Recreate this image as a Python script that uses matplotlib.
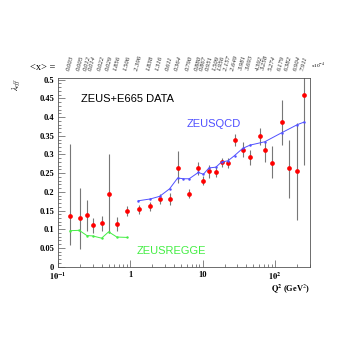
import matplotlib
matplotlib.use("Agg")
import matplotlib.pyplot as plt
import matplotlib.transforms as mtransforms

plt.rcParams["mathtext.fontset"] = "stix"

# data points: Q^2, lambda_eff and the ends of the error bars
q2 = [0.147, 0.20, 0.25, 0.30, 0.40, 0.51, 0.66, 0.91, 1.30, 1.89,
      2.54, 3.48, 4.55, 6.5, 8.7, 10.2, 12.2, 15.2, 18.2, 22.3,
      27.5, 35.5, 45, 61, 72, 92, 123, 154, 204, 254]
lam = [0.136, 0.130, 0.138, 0.111, 0.116, 0.195, 0.114, 0.149, 0.154, 0.161,
       0.181, 0.181, 0.265, 0.195, 0.265, 0.230, 0.255, 0.254, 0.279, 0.278,
       0.339, 0.313, 0.293, 0.349, 0.312, 0.278, 0.387, 0.263, 0.255, 0.460]
lam_lo = [0.058, 0.047, 0.094, 0.090, 0.096, 0.091, 0.096, 0.136, 0.142, 0.149,
          0.168, 0.165, 0.224, 0.183, 0.246, 0.218, 0.237, 0.240, 0.267, 0.265,
          0.324, 0.293, 0.273, 0.326, 0.281, 0.237, 0.326, 0.183, 0.125, 0.273]
lam_hi = [0.328, 0.210, 0.177, 0.130, 0.136, 0.300, 0.132, 0.162, 0.166, 0.173,
          0.194, 0.197, 0.308, 0.207, 0.280, 0.242, 0.273, 0.268, 0.291, 0.291,
          0.355, 0.333, 0.313, 0.371, 0.335, 0.322, 0.447, 0.340, 0.384, 0.600]

# <x> labels on top
x_labels = ["0.003", "0.005", "0.012", "0.014", "0.022", "0.029", "1.856", "1.506",
            "2.396", "1.838", "1.316", "0.611", "0.364", "0.790", "0.880", "0.867",
            "0.951", "1.509", "1.956", "2.157", "2.649", "3.981", "3.693", "4.392",
            "3.258", "5.274", "6.179", "6.382", "6.904", "7.911"]

# ZEUSQCD curve
qcd_q2 = [1.28, 1.89, 2.54, 3.48, 4.5, 5.4, 6.5, 8.7, 10.2, 12.2, 15.2,
          18.2, 22.3, 27.5, 35.5, 45, 72, 123, 204, 254]
qcd_lam = [0.176, 0.181, 0.188, 0.208, 0.237, 0.235, 0.235, 0.252, 0.247, 0.264,
           0.266, 0.280, 0.283, 0.297, 0.316, 0.325, 0.334, 0.358, 0.380, 0.387]

# ZEUSREGGE curve
regge_q2 = [0.147, 0.196, 0.25, 0.30, 0.40, 0.50, 0.65, 0.90]
regge_lam = [0.096, 0.097, 0.083, 0.082, 0.076, 0.093, 0.079, 0.078]

fig = plt.figure(figsize=(3.54, 3.54), dpi=100)
ax = fig.add_axes([0.164, 0.247, 0.712, 0.533])

yerr = [[v - lo for v, lo in zip(lam, lam_lo)], [hi - v for v, hi in zip(lam, lam_hi)]]
ax.errorbar(q2, lam, yerr=yerr, fmt="none", ecolor="#777777", elinewidth=0.8, capsize=0)
ax.plot(q2, lam, "o", color="red", markersize=3.4, markeredgewidth=0)
ax.plot(qcd_q2, qcd_lam, color="#5050ff", lw=0.7, marker=".", markersize=1.5)
ax.plot(regge_q2, regge_lam, color="#44ee44", lw=0.7, marker=".", markersize=1.5)

ax.set_xscale("log")
ax.set_xlim(0.1, 305)
ax.set_ylim(0, 0.505)

serif = {"family": "Liberation Serif", "weight": "bold", "size": 6}
ax.set_yticks([0, 0.05, 0.1, 0.15, 0.2, 0.25, 0.3, 0.35, 0.4, 0.45, 0.5])
ax.set_yticklabels(["0", "0.05", "0.1", "0.15", "0.2", "0.25", "0.3", "0.35",
                    "0.4", "0.45", "0.5"], fontdict=serif)
ax.set_yticks([i * 0.01 for i in range(51)], minor=True)
ax.set_xticks([0.1, 1, 10, 100])
ax.set_xticklabels([r"$\mathbf{10^{-1}}$", "1", "10", r"$\mathbf{10^{2}}$"], fontdict=serif)
ax.tick_params(which="both", direction="in", right=False, top=False, width=0.5, color="#555555")
ax.tick_params(which="major", length=5, pad=3)
ax.tick_params(which="minor", length=2.5)
for s in ax.spines.values():
    s.set_linewidth(0.6)
    s.set_color("#555555")

ax.text(1.0, -0.085, r"$\mathbf{Q^2}$ (GeV$^2$)", transform=ax.transAxes, ha="right",
        va="top", fontdict=serif)
ax.text(-0.165, 1.0, r"$\lambda_{eff}$", transform=ax.transAxes, rotation=90,
        ha="center", va="top", fontsize=6, family="Liberation Serif")

sans = "Liberation Sans"
ax.text(0.09, 0.87, "ZEUS+E665 DATA", transform=ax.transAxes, fontsize=8, family=sans)
ax.text(0.51, 0.74, "ZEUSQCD", transform=ax.transAxes, fontsize=8, family=sans, color="#5050ff")
ax.text(0.31, 0.065, "ZEUSREGGE", transform=ax.transAxes, fontsize=8, family=sans, color="#44ee44")

# top labels
trans = mtransforms.blended_transform_factory(ax.transData, ax.transAxes)
for xv, lab in zip(q2, x_labels):
    ax.text(xv, 1.035, lab, transform=trans, rotation=75, fontsize=4.8, style="italic",
            family="Liberation Serif", ha="center", va="bottom", color="#222222")
ax.text(-0.11, 1.03, "<x> =", transform=ax.transAxes, fontsize=7.5, family="Liberation Serif",
        va="bottom")
ax.text(1.005, 1.035, r"x10$^{-4}$", transform=ax.transAxes, fontsize=3.8, family="Liberation Serif",
        va="bottom")

fig.savefig("out.png", dpi=100)
